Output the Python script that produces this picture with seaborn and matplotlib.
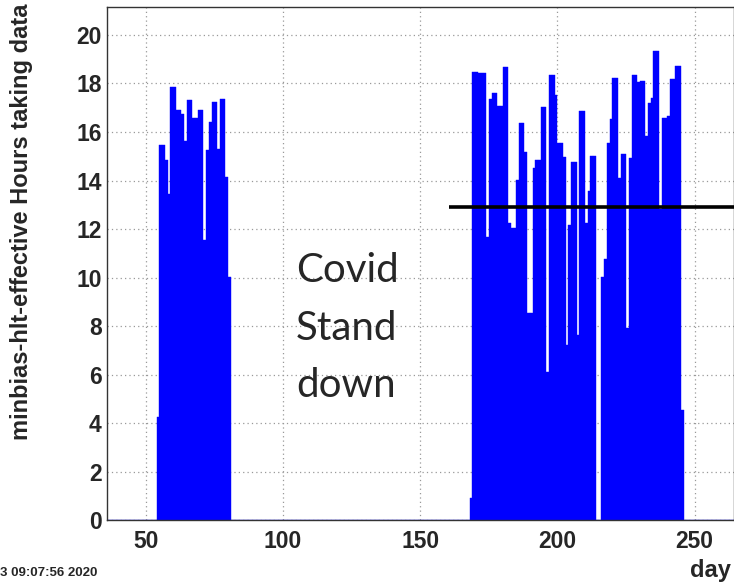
import numpy as np
import pandas as pd
import matplotlib.pyplot as plt
import seaborn as sns
from matplotlib.ticker import MultipleLocator

# -------------------------------
# DATA (hours taking data per day)
# -------------------------------
run1_first_day = 54
run1_hours = [4.26, 15.46, 15.46, 14.85, 13.43, 17.87, 17.87, 16.9, 16.9, 16.74,
              15.63, 17.32, 17.32, 16.59, 16.59, 16.9, 16.9, 11.55, 15.26, 16.43,
              17.22, 17.22, 15.29, 17.36, 17.36, 14.16, 10.03]

run2_first_day = 168
run2_hours = [0.89, 18.49, 18.49, 18.45, 18.45, 18.45, 11.68, 17.36, 17.6, 17.6,
              17.07, 17.07, 18.69, 18.69, 12.26, 12.03, 12.03, 14.02, 16.36, 16.36,
              15.19, 8.52, 8.52, 14.5, 14.85, 14.85, 17.04, 17.04, 6.12, 18.35,
              18.35, 17.53, 15.53, 15.53, 14.98, 7.22, 12.16, 14.75, 14.75, 7.63,
              16.87, 16.87, 12.26, 13.57, 15.02, 15.02]

run3_first_day = 216
run3_hours = [10.03, 10.75, 15.55, 16.54, 18.24, 18.24, 14.09, 15.09, 15.09, 7.9,
              14.91, 18.35, 18.35, 18.07, 18.1, 18.1, 15.84, 17.18, 17.39, 19.34,
              19.34, 12.81, 16.56, 16.56, 16.66, 18.17, 18.17, 18.73, 18.73, 4.54]

target_hours = 12.92
target_start_day = 160.5

x_title = "day"
y_title = "minbias-hlt-effective Hours taking data"
date_stamp = "3 09:07:56 2020"
note_lines = ["Covid", "Stand", "down"]

days = np.concatenate([
    np.arange(run1_first_day, run1_first_day + len(run1_hours)),
    np.arange(run2_first_day, run2_first_day + len(run2_hours)),
    np.arange(run3_first_day, run3_first_day + len(run3_hours)),
])
hours = run1_hours + run2_hours + run3_hours
df = pd.DataFrame({"day": days + 0.5, "hours": hours})

# -------------------------------
# STYLE
# -------------------------------
sns.set_style("white")
plt.rcParams["font.family"] = ["Liberation Sans", "DejaVu Sans"]

fig = plt.figure(figsize=(7.34, 5.83), dpi=100)
ax = fig.add_axes([0.1462, 0.108, 0.8533, 0.8794])

# -------------------------------
# HISTOGRAM
# -------------------------------
sns.histplot(data=df, x="day", weights="hours", binwidth=1, binrange=(36, 265),
             color="blue", alpha=1, edgecolor="blue", linewidth=0.3, ax=ax)

ax.hlines(target_hours, target_start_day, 264.2, color="black", lw=2.6, zorder=5)

ax.set_xlim(36, 264.2)
ax.set_ylim(0, 21.14)
ax.xaxis.set_major_locator(MultipleLocator(50))
ax.xaxis.set_minor_locator(MultipleLocator(10))
ax.yaxis.set_major_locator(MultipleLocator(2))
ax.yaxis.set_minor_locator(MultipleLocator(0.4))
ax.tick_params(which="both", direction="in", top=False, right=False,
               color="#333333")
ax.tick_params(which="major", length=9, width=1)
ax.tick_params(which="minor", length=5, width=1)
ax.tick_params(axis="x", which="major", pad=7)
ax.tick_params(axis="y", which="major", pad=4)
for lab in ax.get_xticklabels() + ax.get_yticklabels():
    lab.set_fontweight("bold")
    lab.set_fontsize(16.5)

ax.grid(True, which="major", linestyle=(0, (1, 2.5)), color="#999999", lw=0.9)
ax.set_axisbelow(True)
for sp in ax.spines.values():
    sp.set_color("#333333")
    sp.set_linewidth(1)
ax.set_xlabel("")
ax.set_ylabel("")

# -------------------------------
# TEXTS
# -------------------------------
fig.text(22 / 734, 1 - 3 / 583, y_title, rotation=90, ha="center", va="top",
         fontsize=17, fontweight="bold")
fig.text(731 / 734, 1 - 570 / 583, x_title, ha="right", va="center",
         fontsize=17, fontweight="bold")
fig.text(0.0, 1 - 573 / 583, date_stamp, ha="left", va="center",
         fontsize=9.5, fontweight="bold")

for i, line in enumerate(note_lines):
    ax.text(104.8, 9.8 - i * 2.37, line, ha="left", va="baseline",
            fontsize=29, family=["Lato", "DejaVu Sans"])

fig.savefig("out.png", dpi=100)
